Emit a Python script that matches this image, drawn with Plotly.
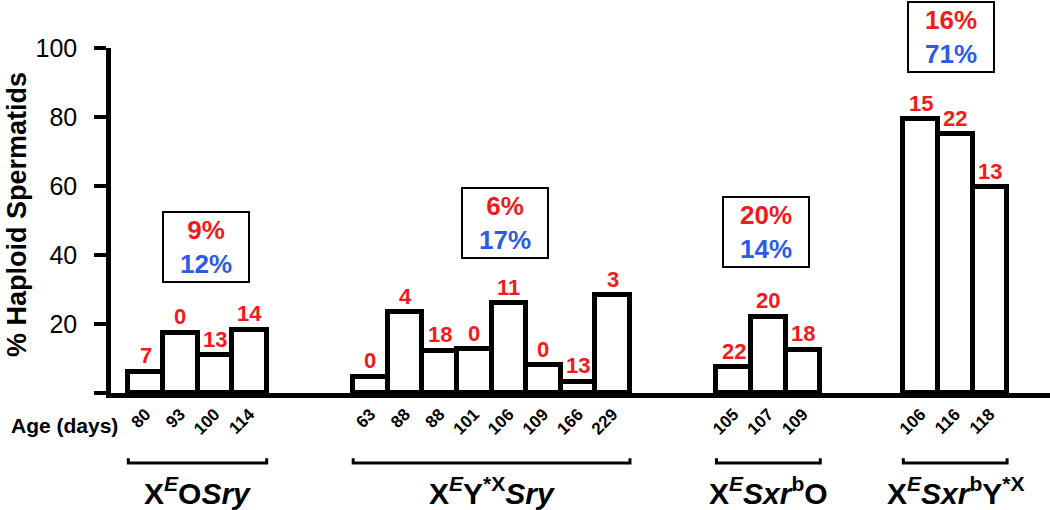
import plotly.graph_objects as go

# ---- data ----
group_labels = [
    "X<sup><i>E</i></sup>O<i>Sry</i>",
    "X<sup><i>E</i></sup>Y<sup>*X</sup><i>Sry</i>",
    "X<sup><i>E</i></sup><i>Sxr</i><sup>b</sup>O",
    "X<sup><i>E</i></sup><i>Sxr</i><sup>b</sup>Y<sup>*X</sup>",
]
ages_g1 = [80, 93, 100, 114]
ages_g2 = [63, 88, 88, 101, 106, 109, 166, 229]
ages_g3 = [105, 107, 109]
ages_g4 = [106, 116, 118]

haploid_g1 = [6.2, 17.4, 11.0, 18.3]
haploid_g2 = [4.7, 23.4, 12.2, 12.7, 26.0, 8.1, 3.3, 28.4]
haploid_g3 = [7.4, 22.1, 12.5]
haploid_g4 = [79.3, 75.0, 59.6]

counts_g1 = [7, 0, 13, 14]
counts_g2 = [0, 4, 18, 0, 11, 0, 13, 3]
counts_g3 = [22, 20, 18]
counts_g4 = [15, 22, 13]

pct_red = [9, 6, 20, 16]
pct_blue = [12, 17, 14, 71]

# ---- layout constants ----
RED = "#F21A1A"
BLUE = "#2E5BE6"
FONT = "Liberation Sans, Arial, sans-serif"
group_start = [1, 7.5, 18, 23.4]
X_RANGE = [0, 27.14]
Y_RANGE = [0, 100]
box_pos = [(2.75, 42.3), (11.4, 49.3), (18.93, 46.7), (24.28, 103.2)]

ages = [ages_g1, ages_g2, ages_g3, ages_g4]
vals = [haploid_g1, haploid_g2, haploid_g3, haploid_g4]
cnts = [counts_g1, counts_g2, counts_g3, counts_g4]

xs, ys, ticktext, ctext = [], [], [], []
groups_x = []
for g in range(4):
    gx = [group_start[g] + i for i in range(len(vals[g]))]
    groups_x.append(gx)
    xs += gx
    ys += vals[g]
    ticktext += [str(a) for a in ages[g]]
    ctext += [str(c) for c in cnts[g]]


def to_paper_x(x):
    return (x - X_RANGE[0]) / (X_RANGE[1] - X_RANGE[0])


def to_paper_y(y):
    return (y - Y_RANGE[0]) / (Y_RANGE[1] - Y_RANGE[0])


fig = go.Figure()
fig.add_trace(go.Bar(
    x=xs, y=ys, width=1,
    marker=dict(color="white", line=dict(color="black", width=5)),
    hoverinfo="skip", showlegend=False,
))

annotations = []
for x, y, t in zip(xs, ys, ctext):
    annotations.append(dict(
        x=x, y=y, xref="x", yref="y", text="<b>%s</b>" % t, showarrow=False,
        yanchor="middle", yshift=16,
        font=dict(family=FONT, size=22, color=RED),
    ))

for (bx, by), r, b in zip(box_pos, pct_red, pct_blue):
    annotations.append(dict(
        x=to_paper_x(bx), y=to_paper_y(by), xref="paper", yref="paper", showarrow=False,
        text="<b><span style='color:%s'>%d%%</span><br><span style='color:%s'>%d%%</span></b>" % (RED, r, BLUE, b),
        font=dict(family=FONT, size=26),
        width=84, height=68, borderwidth=2, bordercolor="black", borderpad=0,
        bgcolor="white", align="center", valign="middle",
        xanchor="center", yanchor="middle",
    ))

shapes = []
br_y = -0.203
tick_h = 0.014
for g in range(4):
    x0 = to_paper_x(groups_x[g][0] - 0.5)
    x1 = to_paper_x(groups_x[g][-1] + 0.5)
    shapes.append(dict(
        type="path", xref="paper", yref="paper",
        path="M %f,%f L %f,%f L %f,%f L %f,%f" % (x0, br_y + tick_h, x0, br_y, x1, br_y, x1, br_y + tick_h),
        line=dict(color="black", width=3),
    ))
    annotations.append(dict(
        x=(x0 + x1) / 2, y=-0.285, xref="paper", yref="paper",
        text="<b>%s</b>" % group_labels[g], showarrow=False,
        xanchor="center", yanchor="middle",
        font=dict(family=FONT, size=30, color="black"),
    ))

annotations.append(dict(
    x=-0.05, y=-0.093, xref="paper", yref="paper", text="<b>Age (days)</b>",
    showarrow=False, xanchor="center", yanchor="middle",
    font=dict(family=FONT, size=21, color="black"),
))
annotations.append(dict(
    x=-0.1, y=0.516, xref="paper", yref="paper", text="<b>% Haploid Spermatids</b>",
    showarrow=False, textangle=-90, xanchor="center", yanchor="middle",
    font=dict(family=FONT, size=27, color="black"),
))

fig.update_layout(
    width=1050, height=510,
    margin=dict(l=111, r=0, t=48, b=117),
    paper_bgcolor="white", plot_bgcolor="white",
    bargap=0,
    annotations=annotations, shapes=shapes,
    xaxis=dict(
        range=X_RANGE, showgrid=False, zeroline=False,
        showline=True, linecolor="black", linewidth=4.5,
        tickmode="array", tickvals=xs, ticktext=["<b>%s</b>" % t for t in ticktext],
        tickangle=-45, ticks="", tickfont=dict(family=FONT, size=17, color="black"),
    ),
    yaxis=dict(
        range=Y_RANGE, showgrid=False, zeroline=False,
        showline=True, linecolor="black", linewidth=4.5,
        tickmode="array", tickvals=[0, 20, 40, 60, 80, 100],
        ticktext=["", "20", "40", "60", "80", "100"],
        ticks="outside", ticklen=12, tickwidth=4, tickcolor="black",
        ticklabelstandoff=12,
        tickfont=dict(family=FONT, size=25, color="black"),
    ),
)

fig.write_html("out.html", post_script="document.body.style.margin='0';",
               config={"displayModeBar": False})
